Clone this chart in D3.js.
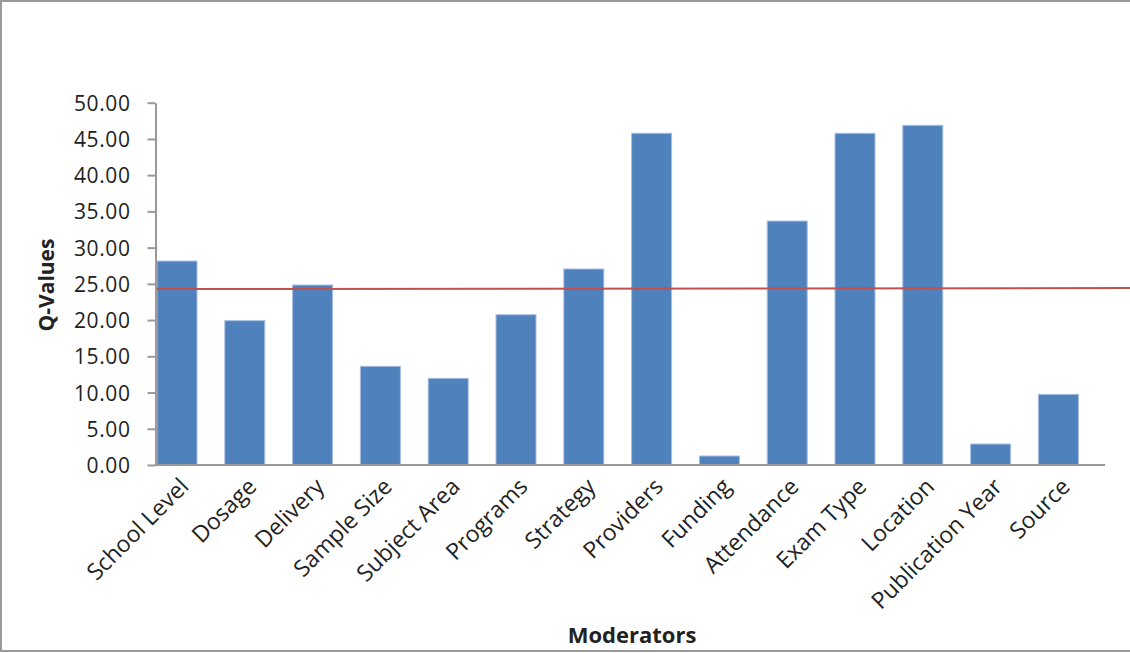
<!DOCTYPE html>
<html>
<head>
<meta charset="utf-8">
<script src="https://cdn.jsdelivr.net/npm/d3@7"></script>
<style>
  html, body { margin: 0; padding: 0; background: #fff; }
  svg { display: block; }
  text { font-family: "Open Sans", "Noto Sans", sans-serif; fill: #222; }
</style>
</head>
<body>
<svg id="chart" width="1130" height="653"></svg>
<script>
// Moderator categories and their Q-values
const categories = ["School Level", "Dosage", "Delivery", "Sample Size", "Subject Area", "Programs",
  "Strategy", "Providers", "Funding", "Attendance", "Exam Type", "Location", "Publication Year", "Source"];
const qValues = [28.15, 19.92, 24.84, 13.62, 11.96, 20.74, 27.05, 45.78, 1.24, 33.67, 45.78, 46.88, 2.9, 9.75];
const yTicks = [0, 5, 10, 15, 20, 25, 30, 35, 40, 45, 50];
// Reference (critical) line, start and end values
const refLine = [24.28, 24.42];

const svg = d3.select("#chart");
const W = 1130, H = 653;

// Outer frame
svg.append("rect").attr("x", 1).attr("y", 1).attr("width", W + 4).attr("height", H - 3)
  .attr("fill", "none").attr("stroke", "#9a9a9a").attr("stroke-width", 2);

const x = d3.scaleBand().domain(categories).range([157, 157 + 67.8 * (14 - 0.41)])
  .paddingInner(0.41).paddingOuter(0);
const y = d3.scaleLinear().domain([0, 50]).range([465, 102.7]);

// Bars
svg.append("g").selectAll("rect").data(categories).join("rect")
  .attr("x", d => x(d))
  .attr("y", (d, i) => y(qValues[i]))
  .attr("width", x.bandwidth())
  .attr("height", (d, i) => y(0) - y(qValues[i]))
  .attr("fill", "#4f81bd")
  .attr("stroke", "#a7bfe0").attr("stroke-width", 1);

// Y axis
const yAxis = d3.axisLeft(y).tickValues(yTicks).tickFormat(d3.format(".2f")).tickSize(8).tickSizeOuter(0);
const gy = svg.append("g").attr("transform", "translate(155.5,0)").call(yAxis);
gy.select(".domain").attr("stroke", "#999").attr("stroke-width", 2);
gy.selectAll(".tick line").attr("stroke", "#999").attr("stroke-width", 2);
gy.selectAll(".tick text").attr("x", -25).attr("dy", "0.36em")
  .style("font-size", "21px").style("letter-spacing", "0.6px").style("fill", "#222");

// X axis line
svg.append("line").attr("x1", 155).attr("x2", 1105).attr("y1", y(0)).attr("y2", y(0))
  .attr("stroke", "#999").attr("stroke-width", 2);

// Category labels, rotated
svg.append("g").selectAll("text").data(categories).join("text")
  .attr("transform", d => `translate(${x(d) + x.bandwidth() / 2 + 13},${y(0) + 23}) rotate(-45)`)
  .attr("text-anchor", "end")
  .style("font-size", "23px")
  .text(d => d);

// Reference line
svg.append("line")
  .attr("x1", 157).attr("x2", W)
  .attr("y1", y(refLine[0])).attr("y2", y(refLine[1]))
  .attr("stroke", "#c0504d").attr("stroke-width", 2);

// Axis titles
svg.append("text").attr("transform", `translate(54,285) rotate(-90)`)
  .attr("text-anchor", "middle").style("font-size", "21px").style("font-weight", "bold")
  .text("Q-Values");
svg.append("text").attr("x", 632).attr("y", 643)
  .attr("text-anchor", "middle").style("font-size", "22px").style("font-weight", "bold")
  .text("Moderators");
</script>
</body>
</html>
